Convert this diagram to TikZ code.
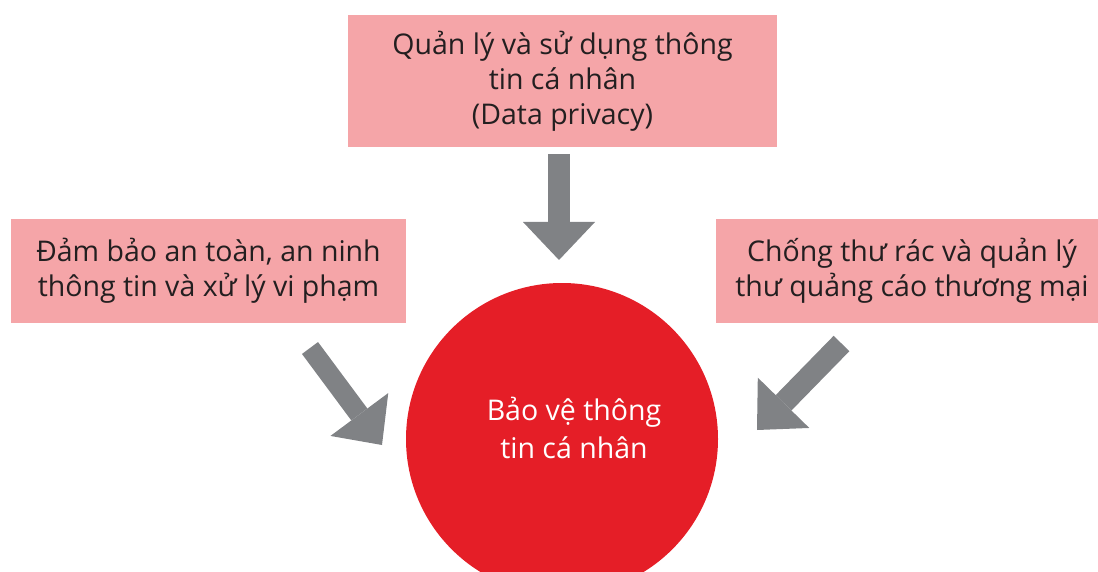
\documentclass[tikz,border=0pt]{standalone}
\usepackage{fontspec}
\setmainfont{Open Sans}
\usetikzlibrary{arrows.meta}

\definecolor{boxpink}{RGB}{245,165,168}
\definecolor{discred}{RGB}{229,30,39}
\definecolor{arrowgray}{RGB}{128,130,133}
\definecolor{inkdark}{RGB}{35,31,32}

\tikzset{
  topicbox/.style={fill=boxpink, draw=none, inner sep=0pt, align=center,
    text=inkdark, font=\fontsize{28.5}{35}\selectfont},
  hubdisc/.style={circle, fill=discred, draw=none, inner sep=0pt},
  hubtext/.style={text=white, align=center, font=\fontsize{28.5}{38}\selectfont},
  blockarrow/.style={draw=arrowgray, line width=#1,
    -{Triangle[length=38pt, width=72pt, line width=0pt, color=arrowgray]}},
  blockarrow/.default=21pt
}

\begin{document}
\begin{tikzpicture}[x=1pt, y=-1pt]
  \useasboundingbox (0,0) rectangle (1098,572);

  % central disc and its caption
  \node[hubdisc, minimum size=312pt] (hub) at (562,439) {};
  \node[hubtext] (hubcap) at (574,428) {Bảo vệ thông\\tin cá nhân};

  % the three topic boxes
  \node[topicbox, minimum width=429pt, minimum height=132pt] (privacy) at (562.5,81)
    {Quản lý và sử dụng thông\\tin cá nhân\\(Data privacy)};
  \node[topicbox, minimum width=395pt, minimum height=104pt] (security) at (208.5,271)
    {Đảm bảo an toàn, an ninh\\thông tin và xử lý vi phạm};
  \node[topicbox, minimum width=392pt, minimum height=104pt] (spam) at (912,271)
    {Chống thư rác và quản lý\\thư quảng cáo thương mại};

  % arrow ends
  \coordinate (pA) at (559,154);
  \coordinate (pB) at (559,260);
  \coordinate (sA) at (310,348);
  \coordinate (sB) at (382,445);
  \coordinate (mA) at (841.5,343.5);
  \coordinate (mB) at (757,430);

  \draw[blockarrow=22pt] (pA) -- (pB);
  \draw[blockarrow=20pt] (sA) -- (sB);
  \draw[blockarrow=22pt] (mA) -- (mB);
\end{tikzpicture}
\end{document}
